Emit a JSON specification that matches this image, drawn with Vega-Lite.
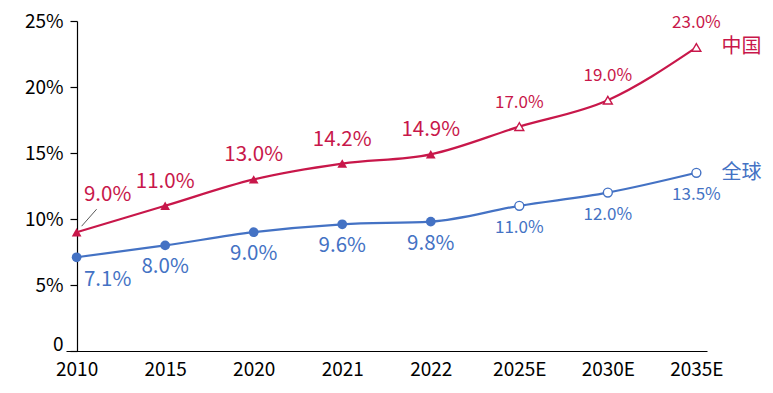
{
  "$schema": "https://vega.github.io/schema/vega-lite/v6.json",
  "autosize": {"type": "none"},
  "width": 641,
  "height": 330,
  "padding": {"left": 66, "top": 21, "right": 66, "bottom": 42},
  "background": "white",
  "config": {
    "view": {"stroke": null},
    "font": "Noto Sans CJK SC"
  },
  "data": {
    "values": [
      {"year": "2010", "series": "中国", "value": 0.090, "type": "actual"},
      {"year": "2015", "series": "中国", "value": 0.110, "type": "actual"},
      {"year": "2020", "series": "中国", "value": 0.130, "type": "actual"},
      {"year": "2021", "series": "中国", "value": 0.142, "type": "actual"},
      {"year": "2022", "series": "中国", "value": 0.149, "type": "actual"},
      {"year": "2025E", "series": "中国", "value": 0.170, "type": "forecast"},
      {"year": "2030E", "series": "中国", "value": 0.190, "type": "forecast"},
      {"year": "2035E", "series": "中国", "value": 0.230, "type": "forecast"},
      {"year": "2010", "series": "全球", "value": 0.071, "type": "actual"},
      {"year": "2015", "series": "全球", "value": 0.080, "type": "actual"},
      {"year": "2020", "series": "全球", "value": 0.090, "type": "actual"},
      {"year": "2021", "series": "全球", "value": 0.096, "type": "actual"},
      {"year": "2022", "series": "全球", "value": 0.098, "type": "actual"},
      {"year": "2025E", "series": "全球", "value": 0.110, "type": "forecast"},
      {"year": "2030E", "series": "全球", "value": 0.120, "type": "forecast"},
      {"year": "2035E", "series": "全球", "value": 0.135, "type": "forecast"}
    ]
  },
  "encoding": {
    "x": {
      "field": "year", "type": "ordinal",
      "sort": null,
      "scale": {"type": "point", "padding": 0.12},
      "axis": {
        "title": null, "labelAngle": 0, "ticks": false,
        "domainColor": "black", "domainWidth": 1.2,
        "labelFontSize": 19, "labelColor": "black", "labelPadding": 9,
        "labelFont": "Noto Sans CJK SC"
      }
    },
    "y": {
      "field": "value", "type": "quantitative",
      "scale": {"domain": [0, 0.25], "nice": false},
      "axis": {
        "title": null, "grid": false, "offset": -11,
        "values": [0, 0.05, 0.1, 0.15, 0.2, 0.25],
        "labelExpr": "datum.value == 0 ? '0' : format(datum.value, '.0%')",
        "labelOffset": {"condition": {"test": "datum.value == 0", "value": -7}, "value": 0},
        "domainColor": "black", "domainWidth": 1.2,
        "tickColor": "black", "tickSize": 7, "tickWidth": 1.2,
        "labelFontSize": 19, "labelColor": "black", "labelPadding": 7,
        "labelFont": "Noto Sans CJK SC"
      }
    },
    "color": {
      "field": "series", "type": "nominal",
      "scale": {"domain": ["中国", "全球"], "range": ["#C8174A", "#4472C4"]},
      "legend": null
    }
  },
  "layer": [
    {
      "mark": {"type": "line", "interpolate": "monotone", "strokeWidth": 2.2}
    },
    {
      "transform": [{"filter": "datum.type == 'actual'"}],
      "mark": {"type": "point", "filled": true, "opacity": 1, "size": 95},
      "encoding": {
        "shape": {"field": "series", "type": "nominal", "scale": {"domain": ["中国", "全球"], "range": ["triangle-up", "circle"]}, "legend": null}
      }
    },
    {
      "transform": [{"filter": "datum.type == 'forecast'"}],
      "mark": {"type": "point", "filled": false, "fill": "white", "fillOpacity": 1, "opacity": 1, "size": 80, "strokeWidth": 1.4},
      "encoding": {
        "shape": {"field": "series", "type": "nominal", "scale": {"domain": ["中国", "全球"], "range": ["triangle-up", "circle"]}, "legend": null}
      }
    },
    {
      "transform": [{"filter": "datum.series == '中国' && datum.year != '2010'"}],
      "mark": {"type": "text", "dy": -24, "baseline": "middle"},
      "encoding": {
        "text": {"field": "value", "type": "quantitative", "format": ".1%"},
        "size": {"condition": {"test": "datum.type == 'forecast'", "value": 17}, "value": 20.5}
      }
    },
    {
      "transform": [{"filter": "datum.series == '全球' && datum.year != '2010'"}],
      "mark": {"type": "text", "dy": 22, "baseline": "middle"},
      "encoding": {
        "text": {"field": "value", "type": "quantitative", "format": ".1%"},
        "size": {"condition": {"test": "datum.type == 'forecast'", "value": 17}, "value": 20.5}
      }
    },
    {
      "transform": [{"filter": "datum.series == '中国' && datum.year == '2010'"}],
      "mark": {"type": "text", "dx": 31, "dy": -37, "baseline": "middle", "fontSize": 20.5},
      "encoding": {
        "text": {"field": "value", "type": "quantitative", "format": ".1%"}
      }
    },
    {
      "transform": [{"filter": "datum.series == '全球' && datum.year == '2010'"}],
      "mark": {"type": "text", "dx": 31, "dy": 23, "baseline": "middle", "fontSize": 20.5},
      "encoding": {
        "text": {"field": "value", "type": "quantitative", "format": ".1%"}
      }
    },
    {
      "transform": [{"filter": "datum.series == '中国' && datum.year == '2010'"}],
      "mark": {"type": "rule", "color": "#595959", "strokeWidth": 1, "xOffset": 5, "yOffset": -6, "x2Offset": 20, "y2Offset": -23},
      "encoding": {
        "x2": {"field": "year"},
        "y2": {"field": "value"},
        "color": {"value": "#595959"}
      }
    },
    {
      "transform": [{"filter": "datum.year == '2035E'"}],
      "mark": {"type": "text", "dx": 25, "dy": 0, "align": "left", "baseline": "middle", "fontSize": 20},
      "encoding": {
        "text": {"field": "series"},
        "color": {"field": "series", "type": "nominal", "scale": {"domain": ["中国", "全球"], "range": ["#C00000", "#4472C4"]}, "legend": null}
      }
    }
  ]
}
